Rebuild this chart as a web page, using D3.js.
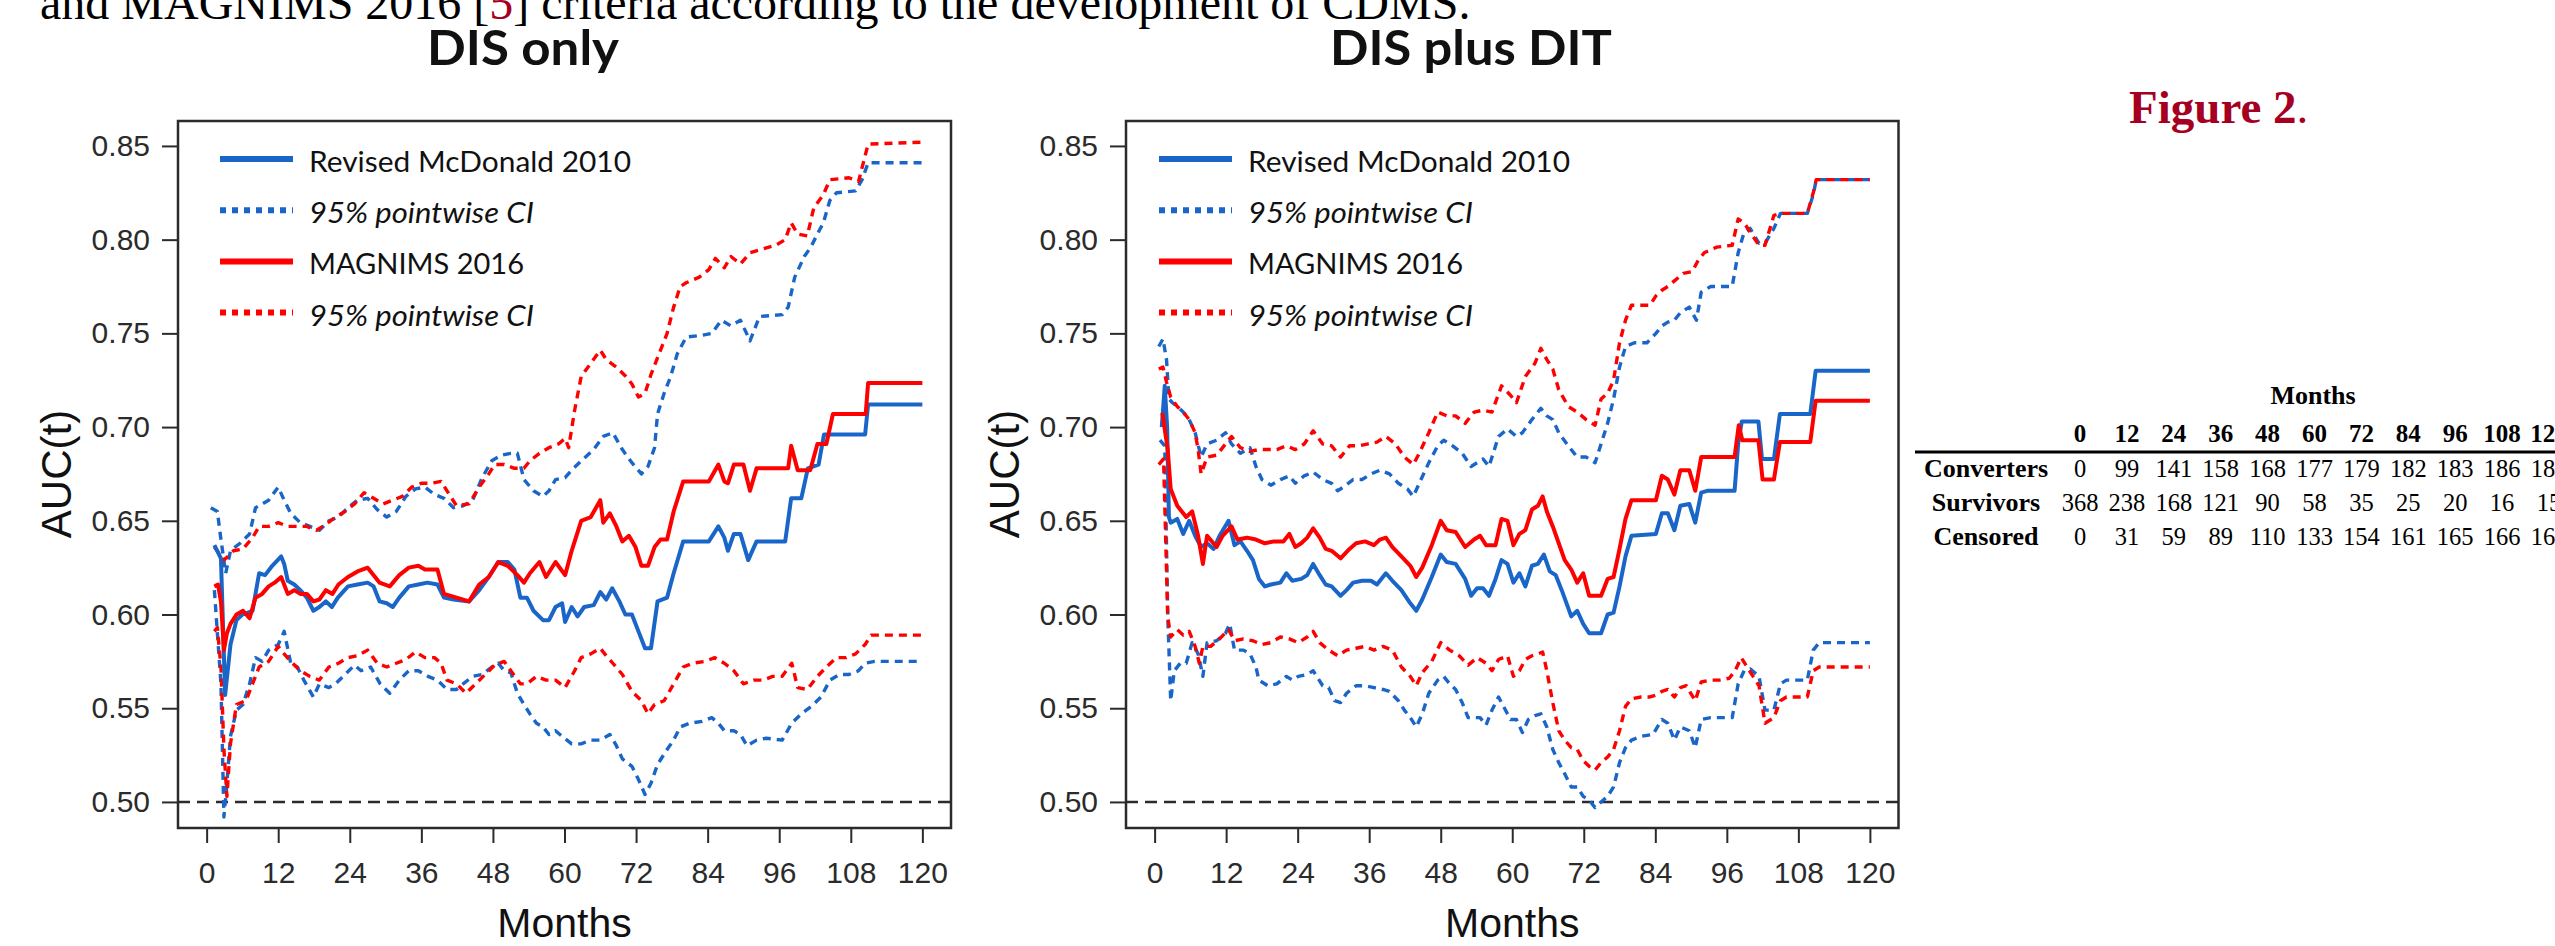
<!DOCTYPE html>
<html>
<head>
<meta charset="utf-8">
<script src="https://cdn.jsdelivr.net/npm/d3@7/dist/d3.min.js"></script>
<style>
  body { margin: 0; background: #fff; overflow: hidden; }
</style>
</head>
<body>
<svg id="fig" width="2555" height="946"></svg>
<script>
////////////////////////////////////////////////////////////////////////
// time dependent AUC(t) curves [month, auc]
////////////////////////////////////////////////////////////////////////

// DIS only -- Revised McDonald 2010
var disOnlyMcd = [[1.3,0.637],[2.4,0.630],[3.1,0.557],[4,0.584],[5,0.597],[6,0.600],[7.7,0.602],[8.8,0.622],[9.8,0.621],[11,0.626],[12.5,0.631],[13,0.627],[13.6,0.618],[14.7,0.616],[15.7,0.613],[16.8,0.609],[17.9,0.602],[18.9,0.604],[20,0.607],[21,0.604],[22,0.609],[23.7,0.615],[25.3,0.616],[27,0.617],[28,0.615],[29,0.607],[30.2,0.606],[31.2,0.604],[32.3,0.609],[33.9,0.615],[35.5,0.616],[37,0.617],[38.7,0.616],[39.8,0.609],[41.4,0.608],[44,0.607],[45.7,0.613],[47.3,0.620],[48.9,0.628],[50.5,0.628],[51.6,0.624],[52.6,0.609],[53.7,0.609],[54.8,0.602],[56.4,0.597],[57.4,0.597],[58.5,0.604],[59.6,0.606],[60.1,0.596],[61.2,0.604],[62.2,0.599],[63.3,0.604],[64.9,0.605],[66,0.612],[67,0.608],[68,0.614],[69.2,0.607],[70.2,0.600],[71.3,0.600],[72.4,0.591],[73.5,0.582],[74.5,0.582],[75.6,0.607],[77.2,0.609],[78.3,0.622],[79.9,0.639],[84.2,0.639],[85.8,0.647],[86.8,0.641],[87.4,0.634],[88.4,0.643],[89.5,0.643],[90.8,0.629],[92.2,0.639],[97,0.639],[98,0.662],[99.7,0.662],[100.8,0.678],[102.6,0.680],[103.5,0.696],[110.4,0.696],[110.9,0.712],[120,0.712]];
var disOnlyMcdUpper = [[0.7,0.657],[1.8,0.655],[2.4,0.640],[3.2,0.622],[4,0.634],[5.6,0.638],[7.2,0.643],[8.2,0.657],[9.3,0.659],[10.4,0.661],[12,0.668],[13,0.661],[14.1,0.654],[15.7,0.649],[17.3,0.647],[18.9,0.645],[20.5,0.650],[22.1,0.652],[23.7,0.657],[25.3,0.661],[27,0.662],[28.6,0.656],[30.2,0.652],[31.8,0.655],[33.4,0.663],[35,0.667],[36.6,0.668],[38.2,0.664],[39.8,0.662],[41.4,0.657],[43,0.658],[44.6,0.661],[46.2,0.673],[47.8,0.682],[49.4,0.685],[51,0.686],[52.1,0.686],[53.2,0.672],[54.8,0.666],[56.4,0.663],[57.4,0.666],[58.5,0.672],[60.1,0.673],[61.2,0.677],[62.8,0.682],[64.9,0.688],[66.5,0.695],[68.1,0.697],[69.7,0.688],[71.3,0.681],[72.9,0.675],[74,0.679],[75.1,0.689],[75.6,0.707],[76.7,0.718],[77.8,0.727],[78.9,0.739],[80.4,0.748],[83.1,0.749],[84.7,0.750],[86.3,0.757],[87.9,0.754],[89.5,0.757],[91.1,0.746],[92.7,0.759],[96.5,0.760],[97.5,0.764],[98.6,0.780],[100.2,0.791],[101.3,0.796],[102.4,0.803],[103.4,0.809],[104.5,0.821],[105.6,0.825],[108.8,0.826],[109.9,0.832],[110.9,0.841],[120,0.841]];
var disOnlyMcdLower = [[1.3,0.613],[2.4,0.563],[2.9,0.492],[3.4,0.510],[4,0.535],[5,0.549],[6.1,0.552],[7.2,0.563],[8.2,0.577],[9.3,0.575],[10.4,0.581],[12,0.584],[13,0.591],[14.1,0.574],[15.2,0.572],[16.3,0.565],[17.9,0.556],[18.9,0.563],[20.5,0.561],[21.6,0.563],[23.2,0.568],[24.8,0.573],[25.9,0.570],[27.5,0.572],[29.1,0.563],[30.7,0.558],[32.3,0.565],[33.9,0.570],[35.5,0.570],[37.1,0.567],[38.7,0.565],[40.3,0.560],[41.9,0.560],[43,0.563],[44.6,0.567],[46.2,0.568],[47.8,0.572],[48.9,0.574],[49.9,0.570],[51,0.569],[52.1,0.558],[53.2,0.552],[54.2,0.547],[55.3,0.542],[56.4,0.540],[57.4,0.536],[58.5,0.538],[59.6,0.535],[61.2,0.531],[62.8,0.531],[64.4,0.533],[66,0.533],[67.6,0.536],[68.7,0.530],[69.7,0.523],[71.3,0.519],[72.4,0.512],[73.5,0.504],[74.5,0.510],[75.6,0.520],[77.2,0.528],[78.3,0.533],[79.4,0.540],[81,0.542],[83.1,0.543],[84.7,0.545],[85.8,0.542],[86.8,0.538],[88.4,0.538],[89.5,0.536],[90.6,0.530],[92.2,0.533],[93.8,0.534],[96.5,0.533],[98.1,0.542],[99.7,0.547],[101.4,0.551],[103,0.556],[104.5,0.565],[106.1,0.568],[107.7,0.568],[109.3,0.570],[110.4,0.574],[112,0.575],[120,0.575]];

// DIS only -- MAGNIMS 2016
var disOnlyMag = [[1.3,0.615],[1.9,0.616],[2.4,0.607],[2.9,0.581],[3.4,0.590],[4,0.595],[5,0.600],[6.1,0.602],[7.2,0.598],[8.2,0.609],[9.3,0.611],[10.4,0.615],[11.4,0.617],[12.5,0.620],[13.6,0.611],[14.7,0.613],[15.7,0.611],[16.8,0.611],[17.9,0.607],[18.9,0.608],[20,0.613],[21.1,0.611],[22.1,0.616],[23.7,0.620],[25.3,0.623],[27,0.625],[28,0.621],[29,0.617],[30.7,0.615],[32.3,0.621],[33.9,0.625],[35.5,0.626],[36.6,0.624],[38.7,0.624],[39.8,0.611],[44,0.607],[45.7,0.616],[47.3,0.620],[48.9,0.628],[50.5,0.626],[52.1,0.621],[53.2,0.617],[54.2,0.622],[55.8,0.628],[56.9,0.620],[58.5,0.628],[60.1,0.621],[61.2,0.634],[62.8,0.650],[64.4,0.652],[66,0.661],[66.5,0.649],[67.6,0.654],[68.7,0.647],[69.7,0.639],[70.8,0.642],[71.9,0.636],[72.9,0.626],[74,0.626],[75.1,0.636],[76.1,0.640],[77.2,0.640],[78.3,0.655],[79.9,0.671],[84.2,0.671],[85.8,0.680],[86.8,0.671],[87.4,0.670],[88.4,0.680],[90,0.680],[91.1,0.666],[92.2,0.678],[97.5,0.678],[98,0.690],[99.1,0.677],[101.2,0.677],[102.4,0.691],[103.9,0.691],[105,0.707],[110.5,0.707],[110.9,0.7235],[120,0.7235]];
var disOnlyMagUpper = [[1.3,0.636],[2.9,0.629],[4.5,0.634],[6.1,0.635],[7.7,0.641],[8.8,0.647],[10.4,0.647],[12,0.649],[13.6,0.647],[15.2,0.647],[16.8,0.647],[18.4,0.645],[20,0.648],[21.6,0.652],[23.2,0.655],[24.8,0.659],[26.4,0.665],[28,0.662],[29.6,0.659],[31.2,0.661],[32.8,0.663],[34.4,0.668],[36,0.670],[37.6,0.670],[39.3,0.671],[40.3,0.666],[41.9,0.658],[44,0.659],[45.7,0.668],[47.3,0.675],[48.3,0.680],[49.9,0.680],[51.6,0.678],[53.2,0.678],[54.2,0.682],[55.8,0.686],[57.4,0.689],[59,0.691],[60.1,0.694],[60.7,0.689],[61.7,0.709],[62.8,0.727],[64.4,0.734],[66,0.741],[67,0.736],[68.7,0.732],[70.3,0.727],[71.3,0.723],[72.4,0.716],[73.5,0.718],[74.5,0.728],[75.6,0.737],[77.2,0.750],[78.3,0.764],[79.4,0.775],[80.4,0.777],[82.6,0.780],[84.2,0.784],[85.3,0.790],[86.8,0.785],[87.9,0.791],[89.5,0.787],[91.1,0.793],[93.2,0.795],[95.4,0.797],[97,0.800],[98,0.809],[99.1,0.803],[100.7,0.802],[101.8,0.817],[103.4,0.824],[104.5,0.832],[107.7,0.833],[109.3,0.831],[110.9,0.851],[120,0.852]];
var disOnlyMagLower = [[1.3,0.591],[1.8,0.593],[2.4,0.572],[2.9,0.528],[3.4,0.503],[4,0.531],[5,0.552],[6.6,0.554],[7.7,0.563],[8.8,0.572],[10.4,0.575],[12,0.583],[13,0.579],[14.1,0.575],[15.7,0.570],[17.3,0.567],[18.9,0.565],[20.5,0.572],[22.1,0.574],[23.7,0.577],[25.3,0.578],[27,0.581],[28.6,0.574],[30.2,0.572],[31.8,0.574],[33.4,0.576],[35,0.580],[36.6,0.577],[38.2,0.577],[39.3,0.574],[40.3,0.565],[41.9,0.563],[43.5,0.558],[45.1,0.563],[46.7,0.568],[48.3,0.573],[49.9,0.575],[51,0.570],[52.6,0.563],[53.7,0.563],[55.3,0.567],[56.9,0.565],[58.5,0.565],[60.1,0.561],[61.7,0.570],[62.8,0.577],[64.4,0.579],[66,0.582],[67,0.578],[68.1,0.574],[69.7,0.568],[71.3,0.559],[72.9,0.554],[74,0.547],[75.1,0.552],[76.7,0.554],[78.3,0.563],[79.9,0.572],[81.5,0.574],[83.6,0.575],[85.2,0.577],[86.8,0.574],[88.4,0.570],[90,0.563],[91.7,0.565],[93.3,0.565],[94.9,0.567],[96.5,0.567],[98.1,0.574],[99.1,0.561],[100.7,0.560],[102.4,0.567],[103.9,0.572],[105.6,0.577],[107.2,0.577],[108.8,0.579],[110.4,0.584],[111.4,0.589],[120,0.589]];

// DIS plus DIT -- Revised McDonald 2010
var disDitMcd = [[1.2,0.700],[1.7,0.722],[2.1,0.700],[2.4,0.652],[2.7,0.649],[3.8,0.651],[4.8,0.643],[5.8,0.650],[6.8,0.642],[7.8,0.636],[8.8,0.638],[9.9,0.635],[10.9,0.642],[12.4,0.650],[13.4,0.637],[14.4,0.639],[15.5,0.634],[16.5,0.629],[17.5,0.619],[18.5,0.615],[19.5,0.616],[21.1,0.617],[22.1,0.622],[23.1,0.618],[24.6,0.619],[25.6,0.621],[26.6,0.627],[27.7,0.621],[28.7,0.616],[29.7,0.615],[31.2,0.610],[32.2,0.613],[33.3,0.617],[34.8,0.618],[36.3,0.618],[37.3,0.616],[38.8,0.622],[39.9,0.618],[41.4,0.613],[42.9,0.606],[43.9,0.602],[44.9,0.608],[46.5,0.620],[48,0.632],[49,0.628],[50.5,0.627],[52.1,0.619],[53.1,0.610],[54.1,0.614],[55.1,0.614],[56.1,0.610],[57.2,0.619],[58.2,0.629],[59.2,0.627],[60.2,0.617],[61.2,0.622],[62.2,0.615],[63.3,0.626],[64.3,0.627],[65.3,0.632],[66.3,0.623],[67.3,0.621],[68.3,0.613],[69.9,0.599],[70.9,0.602],[71.9,0.595],[72.9,0.590],[74.9,0.590],[76,0.600],[77,0.601],[78,0.615],[79,0.631],[80,0.642],[84.1,0.643],[85.1,0.654],[86.1,0.654],[87.2,0.645],[88.2,0.658],[89.7,0.659],[90.7,0.649],[91.7,0.665],[92.7,0.666],[97.3,0.666],[97.9,0.691],[98.5,0.703],[101.3,0.703],[101.9,0.683],[103.9,0.683],[104.9,0.707],[110,0.707],[110.9,0.730],[120,0.730]];
var disDitMcdUpper = [[0.7,0.743],[1.4,0.747],[2,0.736],[2.4,0.715],[3,0.713],[3.8,0.711],[4.8,0.708],[5.8,0.704],[6.8,0.697],[7.8,0.684],[8.8,0.691],[10.4,0.693],[11.9,0.697],[12.9,0.691],[14.4,0.686],[16,0.689],[17,0.679],[18,0.672],[19.5,0.669],[21.1,0.672],[22.6,0.674],[23.6,0.670],[25.1,0.674],[26.6,0.676],[28.2,0.672],[29.7,0.670],[30.7,0.666],[31.7,0.668],[33.3,0.672],[34.8,0.672],[36.3,0.675],[37.8,0.677],[39.4,0.675],[40.9,0.670],[42.4,0.667],[43.4,0.663],[44.4,0.670],[46,0.681],[47.5,0.690],[48.5,0.693],[50,0.690],[51.6,0.686],[53.1,0.679],[54.1,0.681],[55.1,0.683],[56.1,0.679],[57.7,0.695],[59.2,0.699],[60.7,0.695],[61.7,0.697],[63.3,0.704],[64.8,0.710],[65.8,0.706],[66.8,0.704],[67.8,0.697],[69.4,0.690],[70.9,0.684],[72.4,0.684],[73.9,0.681],[74.9,0.691],[76,0.702],[77,0.715],[78,0.732],[79,0.743],[80.5,0.745],[82.6,0.745],[84.1,0.750],[85.1,0.754],[86.1,0.756],[87.2,0.757],[88.2,0.761],[89.7,0.764],[90.9,0.757],[91.7,0.772],[93.3,0.775],[96.9,0.775],[97.9,0.793],[98.9,0.804],[99.9,0.806],[101.4,0.798],[102.4,0.798],[103.9,0.806],[105,0.814],[109.5,0.814],[110.5,0.824],[111,0.832],[120,0.832]];
var disDitMcdLower = [[0.9,0.693],[1.7,0.690],[2.2,0.600],[2.7,0.554],[3.3,0.570],[4.3,0.574],[5.3,0.574],[6.3,0.585],[7.3,0.579],[8.1,0.567],[8.8,0.585],[10.4,0.586],[11.9,0.590],[12.6,0.595],[13.4,0.581],[14.9,0.581],[16,0.579],[17,0.572],[17.5,0.565],[19,0.562],[20.5,0.563],[22.1,0.567],[23.1,0.565],[24.1,0.567],[25.6,0.568],[26.6,0.570],[28.2,0.562],[29.2,0.561],[30.2,0.554],[31.2,0.553],[32.2,0.558],[33.8,0.562],[35.3,0.562],[36.8,0.561],[38.3,0.560],[39.4,0.559],[40.9,0.554],[41.9,0.549],[42.9,0.545],[43.9,0.540],[44.9,0.547],[46,0.558],[47.5,0.565],[48.5,0.567],[49.5,0.563],[50.5,0.560],[51.6,0.553],[52.6,0.545],[54.6,0.545],[55.6,0.541],[56.6,0.549],[57.7,0.556],[58.7,0.550],[59.7,0.544],[60.7,0.544],[61.7,0.537],[62.7,0.544],[63.8,0.546],[64.8,0.547],[65.8,0.540],[66.8,0.528],[67.8,0.521],[68.8,0.515],[69.9,0.508],[70.9,0.508],[71.9,0.503],[72.9,0.501],[73.9,0.497],[74.9,0.500],[76,0.503],[77,0.508],[78,0.521],[79,0.529],[80,0.533],[81.6,0.535],[83.6,0.536],[85.1,0.544],[86.1,0.542],[87.2,0.533],[88.2,0.540],[89.7,0.538],[90.7,0.529],[91.7,0.544],[93.3,0.545],[96.9,0.545],[97.9,0.563],[98.9,0.570],[99.9,0.571],[101.4,0.567],[102.4,0.549],[103.9,0.549],[105,0.563],[106,0.565],[109.5,0.565],[110.5,0.581],[111.5,0.585],[120,0.585]];

// DIS plus DIT -- MAGNIMS 2016
var disDitMag = [[1.3,0.7075],[2.2,0.688],[2.7,0.667],[3.8,0.658],[5.3,0.652],[6.3,0.655],[7.3,0.642],[8.1,0.627],[8.8,0.642],[10.4,0.636],[11.4,0.642],[12.9,0.647],[13.9,0.640],[15.5,0.641],[17,0.640],[18.5,0.638],[20,0.639],[21.6,0.639],[22.6,0.643],[23.6,0.636],[24.6,0.638],[25.6,0.641],[26.6,0.646],[27.7,0.641],[28.7,0.635],[29.7,0.634],[31.2,0.630],[32.7,0.635],[33.8,0.638],[35.3,0.639],[36.8,0.637],[37.8,0.640],[38.8,0.641],[39.9,0.636],[41.4,0.631],[42.9,0.626],[43.9,0.620],[44.9,0.625],[46.5,0.637],[48,0.650],[49,0.645],[50.5,0.644],[52.1,0.636],[53.6,0.640],[54.6,0.642],[55.6,0.637],[57.2,0.637],[58.2,0.651],[59.2,0.650],[60.2,0.637],[61.2,0.643],[62.2,0.645],[63.3,0.656],[64.3,0.658],[65.1,0.663],[65.8,0.655],[66.8,0.647],[67.8,0.638],[68.8,0.629],[69.9,0.624],[70.9,0.617],[71.9,0.622],[72.9,0.610],[74.9,0.610],[76,0.619],[77,0.620],[78,0.635],[79,0.651],[80,0.661],[84.1,0.661],[85.1,0.674],[86.1,0.672],[87.2,0.664],[88.2,0.677],[89.7,0.677],[90.7,0.666],[91.7,0.684],[97.3,0.684],[98,0.701],[98.6,0.693],[101.3,0.693],[102,0.672],[103.9,0.672],[104.9,0.692],[110,0.692],[110.9,0.714],[120,0.714]];
var disDitMagUpper = [[0.7,0.731],[1.4,0.732],[2,0.724],[2.7,0.716],[3.8,0.711],[4.8,0.708],[5.8,0.704],[6.8,0.697],[7.3,0.688],[7.8,0.675],[8.8,0.684],[10.4,0.685],[11.9,0.691],[12.9,0.695],[14.4,0.689],[16,0.687],[17.5,0.688],[19,0.688],[20.5,0.688],[22.1,0.690],[23.6,0.688],[25.1,0.691],[26.6,0.698],[28.2,0.691],[29.7,0.690],[31.2,0.684],[32.7,0.690],[34.3,0.690],[35.8,0.691],[37.3,0.692],[38.8,0.695],[40.4,0.691],[41.9,0.684],[43.4,0.680],[44.4,0.686],[46,0.697],[47.5,0.708],[49,0.706],[50.5,0.706],[52.1,0.702],[53.6,0.708],[55.1,0.709],[56.6,0.708],[58.2,0.722],[59.7,0.717],[60.7,0.713],[62.2,0.727],[63.8,0.734],[64.8,0.742],[65.8,0.736],[66.8,0.731],[67.8,0.720],[69.4,0.711],[70.9,0.708],[72.4,0.704],[73.9,0.701],[74.9,0.715],[76,0.718],[77,0.725],[78,0.745],[79,0.757],[80,0.765],[83.1,0.765],[84.1,0.770],[85.1,0.773],[86.1,0.775],[87.2,0.778],[88.7,0.782],[90.2,0.783],[91.2,0.789],[92.2,0.793],[94.3,0.796],[96.9,0.797],[97.9,0.811],[98.9,0.809],[99.9,0.804],[101.4,0.797],[102.4,0.797],[103.9,0.813],[105,0.814],[109.5,0.814],[110.5,0.825],[111,0.832],[120,0.832]];
var disDitMagLower = [[0.7,0.680],[1.5,0.683],[2.2,0.599],[2.7,0.588],[3.8,0.592],[4.8,0.589],[5.8,0.591],[6.8,0.583],[7.5,0.574],[8.1,0.583],[9.4,0.583],[10.9,0.587],[12.4,0.592],[13.4,0.586],[14.9,0.587],[16.5,0.586],[18,0.584],[19.5,0.585],[21.1,0.588],[22.6,0.587],[24.1,0.585],[25.6,0.588],[26.6,0.591],[27.7,0.585],[29.2,0.581],[30.7,0.578],[32.2,0.581],[33.8,0.582],[35.3,0.583],[36.8,0.581],[38.3,0.583],[39.9,0.581],[41.4,0.572],[42.9,0.567],[43.9,0.562],[44.9,0.569],[46.5,0.575],[48,0.585],[49.5,0.581],[51.1,0.578],[52.6,0.573],[54.1,0.577],[55.6,0.574],[56.6,0.570],[57.7,0.576],[59.2,0.578],[60.2,0.567],[61.2,0.570],[62.2,0.576],[63.3,0.578],[64.3,0.579],[65.1,0.580],[65.8,0.570],[66.8,0.553],[67.8,0.538],[68.8,0.533],[69.9,0.529],[70.9,0.528],[71.9,0.522],[72.9,0.519],[73.9,0.517],[74.9,0.521],[76,0.524],[77,0.528],[78,0.538],[79,0.551],[80,0.555],[81.6,0.556],[83.1,0.556],[84.1,0.557],[85.1,0.559],[86.1,0.560],[87.2,0.556],[88.2,0.561],[89.2,0.562],[90.7,0.554],[91.7,0.564],[93.3,0.565],[94.8,0.565],[96.4,0.566],[97.4,0.570],[98.4,0.577],[99.4,0.572],[100.4,0.567],[101.4,0.562],[102.4,0.542],[103.9,0.545],[105,0.554],[106,0.556],[109.5,0.556],[110.5,0.570],[111.5,0.572],[120,0.572]];

// axis ticks
var monthTicks = [0, 12, 24, 36, 48, 60, 72, 84, 96, 108, 120];
var aucTicks = [0.50, 0.55, 0.60, 0.65, 0.70, 0.75, 0.80, 0.85];

// legend
var legendLabels = ["Revised McDonald 2010", "95% pointwise CI", "MAGNIMS 2016", "95% pointwise CI"];

// numbers at risk table
var tableMonths = [0, 12, 24, 36, 48, 60, 72, 84, 96, 108, 120];
var tableRows = ["Converters", "Survivors", "Censored"];
var converters = [0, 99, 141, 158, 168, 177, 179, 182, 183, 186, 186];
var survivors = [368, 238, 168, 121, 90, 58, 35, 25, 20, 16, 15];
var censored = [0, 31, 59, 89, 110, 133, 154, 161, 165, 166, 167];


var BLUE = "#1a66c8";
var RED = "#ff0000";
var INK = "#2b2b2b";
var svg = d3.select("#fig");


////////////////////////////////////////////////////////////////////////
//
// Draw one AUC(t) panel
//
////////////////////////////////////////////////////////////////////////
function drawPanel(p)
  {
  var x = d3.scaleLinear().domain([-4.8, 124.8]).range([p.left, p.right]);
  var y = d3.scaleLinear().domain([0.4861, 0.8633]).range([828, 121]);

  var g = svg.append("g");

  //clip to the plot region like R does
  g.append("clipPath").attr("id", p.id + "clip")
    .append("rect")
    .attr("x", p.left).attr("y", 121)
    .attr("width", p.right - p.left).attr("height", 828 - 121);

  //y axis
  var yAxis = g.append("g")
    .attr("transform", "translate(" + p.left + ",0)")
    .call(d3.axisLeft(y).tickValues(aucTicks).tickFormat(d3.format(".2f")).tickSize(16).tickPadding(12));
  yAxis.select(".domain").remove();

  //x axis
  var xAxis = g.append("g")
    .attr("transform", "translate(0,828)")
    .call(d3.axisBottom(x).tickValues(monthTicks).tickSize(15).tickPadding(19));
  xAxis.select(".domain").remove();

  g.selectAll(".tick line").attr("stroke", INK).attr("stroke-width", 2);
  g.selectAll(".tick text")
    .attr("fill", INK)
    .style("font-family", "'Liberation Sans', Arial, sans-serif")
    .style("font-size", "30px");

  //reference line at 0.5
  g.append("line")
    .attr("x1", p.left).attr("x2", p.right)
    .attr("y1", y(0.5)).attr("y2", y(0.5))
    .attr("stroke", INK).attr("stroke-width", 2.5)
    .attr("stroke-dasharray", "12,7");

  //curves
  var line = d3.line()
    .x(function(d) { return x(d[0]); })
    .y(function(d) { return y(d[1]); });

  var curves = [
    {data: p.mcdUpper, color: BLUE, dotted: true},
    {data: p.mcdLower, color: BLUE, dotted: true},
    {data: p.magUpper, color: RED, dotted: true},
    {data: p.magLower, color: RED, dotted: true},
    {data: p.mcd, color: BLUE, dotted: false},
    {data: p.mag, color: RED, dotted: false}
  ];

  var plot = g.append("g").attr("clip-path", "url(#" + p.id + "clip)");
  plot.selectAll("path")
    .data(curves)
    .enter()
    .append("path")
    .attr("d", function(d) { return line(d.data); })
    .attr("fill", "none")
    .attr("stroke", function(d) { return d.color; })
    .attr("stroke-width", function(d) { return d.dotted ? 3.4 : 4; })
    .attr("stroke-dasharray", function(d) { return d.dotted ? "8,6" : null; })
    .attr("stroke-linejoin", "round");

  //box
  g.append("rect")
    .attr("x", p.left).attr("y", 121)
    .attr("width", p.right - p.left).attr("height", 828 - 121)
    .attr("fill", "none").attr("stroke", INK).attr("stroke-width", 2.5);

  //legend
  var legColors = [BLUE, BLUE, RED, RED];
  var legWidths = [322, 225, 215, 225];
  var leg = g.append("g");
  legendLabels.forEach(function(label, i)
    {
    var cy = 159 + i * 51.2;
    leg.append("line")
      .attr("x1", p.legX).attr("x2", p.legX + 73)
      .attr("y1", cy).attr("y2", cy)
      .attr("stroke", legColors[i]).attr("stroke-width", 6)
      .attr("stroke-dasharray", i % 2 ? "6,6" : null);
    leg.append("text")
      .attr("x", p.legText).attr("y", cy + 13)
      .attr("textLength", legWidths[i]).attr("lengthAdjust", "spacingAndGlyphs")
      .style("font-family", "Lato, 'Open Sans', sans-serif")
      .style("font-size", "29px")
      .style("font-style", i % 2 ? "italic" : "normal")
      .attr("fill", "#111")
      .text(label);
    });

  //titles and axis labels
  g.append("text")
    .attr("x", p.titleX).attr("y", 65)
    .attr("text-anchor", "middle")
    .attr("textLength", p.titleW).attr("lengthAdjust", "spacingAndGlyphs")
    .style("font-family", "Lato, 'Open Sans', sans-serif")
    .style("font-weight", "bold")
    .style("font-size", "47px")
    .attr("fill", "#111")
    .text(p.title);

  g.append("text")
    .attr("x", (p.left + p.right) / 2).attr("y", 937)
    .attr("text-anchor", "middle")
    .style("font-family", "'Liberation Sans', Arial, sans-serif")
    .style("font-size", "41px")
    .attr("fill", "#111")
    .text("Months");

  g.append("text")
    .attr("transform", "translate(" + (p.left - 107) + ",474) rotate(-90)")
    .attr("text-anchor", "middle")
    .style("font-family", "'Liberation Sans', Arial, sans-serif")
    .style("font-size", "42px")
    .attr("fill", "#111")
    .text("AUC(t)");
  }


////////////////////////////////////////////////////////////////////////
//
// Numbers table on the right
//
////////////////////////////////////////////////////////////////////////
function drawTable()
  {
  var col = d3.scaleLinear().domain([0, 120]).range([2080, 2549]);
  var rowY = d3.scalePoint().domain(tableRows).range([477, 545]);
  var serif = "'Liberation Serif', 'Times New Roman', serif";
  var t = svg.append("g");

  t.append("text")
    .attr("x", 2313).attr("y", 404)
    .attr("text-anchor", "middle")
    .style("font-family", serif).style("font-weight", "bold").style("font-size", "26px")
    .text("Months");

  t.selectAll(".hdr")
    .data(tableMonths)
    .enter()
    .append("text")
    .attr("x", function(d) { return col(d); })
    .attr("y", 442)
    .attr("text-anchor", "middle")
    .style("font-family", serif).style("font-weight", "bold").style("font-size", "25px")
    .text(function(d) { return d; });

  t.append("line")
    .attr("x1", 1915).attr("x2", 2560)
    .attr("y1", 452).attr("y2", 452)
    .attr("stroke", "#000").attr("stroke-width", 3);

  var rows = [converters, survivors, censored];
  tableRows.forEach(function(name, r)
    {
    t.append("text")
      .attr("x", 1986).attr("y", rowY(name))
      .attr("text-anchor", "middle")
      .style("font-family", serif).style("font-weight", "bold").style("font-size", "26px")
      .text(name);

    t.selectAll(".r" + r)
      .data(rows[r])
      .enter()
      .append("text")
      .attr("x", function(d, i) { return col(tableMonths[i]); })
      .attr("y", rowY(name))
      .attr("text-anchor", "middle")
      .style("font-family", serif).style("font-size", "24.5px")
      .text(function(d) { return d; });
    });
  }


////////////////////////////////////////////////////////////////////////
//
// Page text that sits around the figure
//
////////////////////////////////////////////////////////////////////////
function drawPageText()
  {
  var serif = "'Liberation Serif', 'Times New Roman', serif";

  var top = svg.append("text")
    .attr("x", 40).attr("y", 19)
    .style("font-family", serif).style("font-size", "48px")
    .attr("fill", "#000");
  top.append("tspan").text("and MAGNIMS 2016 [");
  top.append("tspan").attr("fill", "#a50021").text("5");
  top.append("tspan").text("] criteria according to the development of CDMS.");

  var fig = svg.append("text")
    .attr("x", 2129).attr("y", 123)
    .style("font-family", serif).style("font-size", "47px")
    .attr("fill", "#a50021");
  fig.append("tspan").style("font-weight", "bold").text("Figure 2");
  fig.append("tspan").text(".");
  }


drawPanel({id: "p1", title: "DIS only", titleX: 523, titleW: 192, left: 178, right: 951, legX: 220, legText: 309,
  mcd: disOnlyMcd, mcdUpper: disOnlyMcdUpper, mcdLower: disOnlyMcdLower,
  mag: disOnlyMag, magUpper: disOnlyMagUpper, magLower: disOnlyMagLower});

drawPanel({id: "p2", title: "DIS plus DIT", titleX: 1471, titleW: 282, left: 1126, right: 1898.5, legX: 1159, legText: 1248,
  mcd: disDitMcd, mcdUpper: disDitMcdUpper, mcdLower: disDitMcdLower,
  mag: disDitMag, magUpper: disDitMagUpper, magLower: disDitMagLower});

drawTable();
drawPageText();
</script>
</body>
</html>
